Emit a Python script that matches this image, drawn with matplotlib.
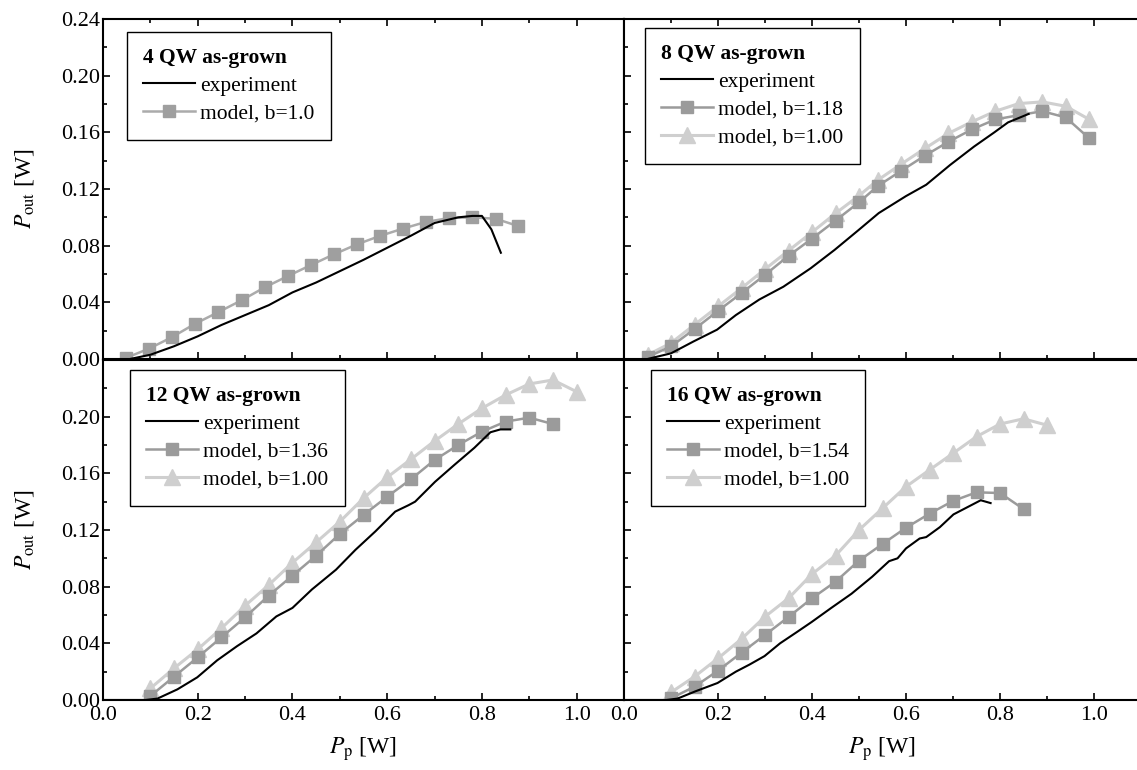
import numpy as np
import matplotlib
matplotlib.use("Agg")
import matplotlib.pyplot as plt
from matplotlib.ticker import MultipleLocator, FormatStrFormatter

plt.rcParams['font.family'] = ['Liberation Serif', 'DejaVu Serif']
plt.rcParams['mathtext.fontset'] = 'stix'

# ---- 4 QW ----
qw4_exp_x = [0.057, 0.10, 0.15, 0.20, 0.25, 0.30, 0.35, 0.40, 0.45, 0.50, 0.55,
             0.60, 0.65, 0.70, 0.75, 0.78, 0.80, 0.82, 0.84]
qw4_exp_y = [0.000, 0.003, 0.009, 0.016, 0.024, 0.031, 0.038, 0.047, 0.054, 0.062,
             0.070, 0.0785, 0.087, 0.096, 0.100, 0.101, 0.101, 0.0915, 0.075]
qw4_m1_x = [0.048, 0.097, 0.145, 0.194, 0.243, 0.293, 0.341, 0.390, 0.439, 0.487,
            0.536, 0.584, 0.633, 0.681, 0.731, 0.779, 0.829, 0.877]
qw4_m1_y = [0.0007, 0.0073, 0.0153, 0.0248, 0.0330, 0.0415, 0.0505, 0.0585, 0.0663,
            0.0738, 0.0809, 0.0868, 0.0920, 0.0967, 0.0995, 0.1000, 0.0990, 0.0938]

# ---- 8 QW ----
qw8_exp_x = [0.05, 0.10, 0.148, 0.198, 0.238, 0.288, 0.339, 0.397, 0.448, 0.499,
             0.542, 0.60, 0.643, 0.694, 0.745, 0.788, 0.817, 0.861]
qw8_exp_y = [0.000, 0.004, 0.0124, 0.0207, 0.031, 0.042, 0.051, 0.064, 0.077, 0.091,
             0.103, 0.115, 0.123, 0.137, 0.150, 0.160, 0.167, 0.173]
qw8_mb_x = [0.05, 0.10, 0.15, 0.20, 0.25, 0.30, 0.35, 0.40, 0.45, 0.50,
            0.54, 0.59, 0.64, 0.69, 0.74, 0.79, 0.84, 0.89, 0.94, 0.99]
qw8_mb_y = [0.0014, 0.0089, 0.0211, 0.0340, 0.0465, 0.0594, 0.0728, 0.0850, 0.0977,
            0.1106, 0.1221, 0.1329, 0.1435, 0.1533, 0.1620, 0.1691, 0.1721, 0.1749,
            0.1705, 0.1557]
qw8_m1_y = [0.0028, 0.0113, 0.0242, 0.0371, 0.0500, 0.0634, 0.0765, 0.0895, 0.1028,
            0.1153, 0.1263, 0.1376, 0.1486, 0.1592, 0.1674, 0.1749, 0.1803, 0.1815,
            0.1784, 0.1691]

# ---- 12 QW ----
qw12_exp_x = [0.0, 0.09, 0.115, 0.157, 0.199, 0.241, 0.283, 0.324, 0.366, 0.40, 0.441,
              0.492, 0.533, 0.575, 0.617, 0.645, 0.659, 0.701, 0.742, 0.784, 0.818,
              0.839, 0.860]
qw12_exp_y = [0.0, 0.0, 0.001, 0.0075, 0.016, 0.028, 0.038, 0.047, 0.059, 0.065, 0.078,
              0.092, 0.106, 0.119, 0.133, 0.1375, 0.140, 0.154, 0.166, 0.178, 0.189,
              0.191, 0.191]
qw12_mb_x = [0.10, 0.15, 0.20, 0.25, 0.30, 0.35, 0.40, 0.45, 0.50, 0.55, 0.60, 0.65,
             0.70, 0.75, 0.80, 0.85, 0.90, 0.95]
qw12_mb_y = [0.0028, 0.0165, 0.0301, 0.0442, 0.0584, 0.0737, 0.0878, 0.1019, 0.1172,
             0.1306, 0.1435, 0.1558, 0.1694, 0.1800, 0.1894, 0.1965, 0.1993, 0.1948]
qw12_m1_x = [0.10, 0.15, 0.20, 0.25, 0.30, 0.35, 0.40, 0.45, 0.50, 0.55, 0.60, 0.65,
             0.70, 0.75, 0.80, 0.85, 0.90, 0.95, 1.00]
qw12_m1_y = [0.0082, 0.0224, 0.0358, 0.0506, 0.0666, 0.0812, 0.0969, 0.1113, 0.1259,
             0.1424, 0.1572, 0.1699, 0.1828, 0.1948, 0.2059, 0.2153, 0.2231, 0.2259,
             0.2176]

# ---- 16 QW ----
qw16_exp_x = [0.0, 0.09, 0.114, 0.151, 0.199, 0.238, 0.267, 0.299, 0.332, 0.368, 0.399,
              0.441, 0.484, 0.528, 0.564, 0.582, 0.60, 0.629, 0.643, 0.672, 0.701,
              0.730, 0.759, 0.780]
qw16_exp_y = [0.0, 0.0, 0.001, 0.006, 0.012, 0.020, 0.025, 0.031, 0.040, 0.048, 0.055,
              0.065, 0.075, 0.087, 0.098, 0.100, 0.107, 0.114, 0.115, 0.122, 0.131,
              0.136, 0.141, 0.139]
qw16_mb_x = [0.10, 0.15, 0.20, 0.25, 0.30, 0.35, 0.40, 0.45, 0.50, 0.55, 0.60, 0.65,
             0.70, 0.75, 0.80, 0.85]
qw16_mb_y = [0.0012, 0.0094, 0.0207, 0.0334, 0.0459, 0.0586, 0.0718, 0.0835, 0.0984,
             0.1101, 0.1216, 0.1315, 0.1405, 0.1466, 0.1461, 0.1348]
qw16_m1_x = [0.10, 0.15, 0.20, 0.25, 0.30, 0.35, 0.40, 0.45, 0.50, 0.55, 0.60, 0.65,
             0.70, 0.75, 0.80, 0.85, 0.90]
qw16_m1_y = [0.0054, 0.0165, 0.0294, 0.0431, 0.0588, 0.0718, 0.0889, 0.1019, 0.1200,
             0.1353, 0.1506, 0.1624, 0.1741, 0.1859, 0.1948, 0.1985, 0.1940]

titles = ["4 QW as-grown", "8 QW as-grown", "12 QW as-grown", "16 QW as-grown"]

W, H = 1137, 770
fig = plt.figure(figsize=(W / 100, H / 100), dpi=100)


def add_ax(x0, y0, w, h):
    return fig.add_axes([x0 / W, 1 - (y0 + h) / H, w / W, h / H])


ax_tl = add_ax(103, 19, 521, 340)
ax_tr = add_ax(624, 19, 517, 340)
ax_bl = add_ax(103, 360, 521, 340)
ax_br = add_ax(624, 360, 517, 340)

sq_col = '#9b9b9b'
tri_col = '#cfcfcf'


def draw(ax, exp, mb, m1, mb_label, m1_label):
    handles = []
    if m1 is not None:
        h1, = ax.plot(m1[0], m1[1], '-^', color=tri_col, lw=2.2, ms=11, label=m1_label)
    if mb is not None:
        hb, = ax.plot(mb[0], mb[1], '-s', color=sq_col, lw=1.8, ms=8.5, label=mb_label)
    he, = ax.plot(exp[0], exp[1], '-', color='black', lw=1.5, label='experiment')
    handles.append(he)
    if mb is not None:
        handles.append(hb)
    if m1 is not None:
        handles.append(h1)
    return handles


hs_tl = draw(ax_tl, (qw4_exp_x, qw4_exp_y), (qw4_m1_x, qw4_m1_y), None,
             'model, b=1.0', None)
ax_tl.lines[0].set_color('#ababab')
ax_tl.lines[0].set_markerfacecolor('#9f9f9f')
ax_tl.lines[0].set_markeredgecolor('#9f9f9f')
hs_tr = draw(ax_tr, (qw8_exp_x, qw8_exp_y), (qw8_mb_x, qw8_mb_y), (qw8_mb_x, qw8_m1_y),
             'model, b=1.18', 'model, b=1.00')
hs_bl = draw(ax_bl, (qw12_exp_x, qw12_exp_y), (qw12_mb_x, qw12_mb_y), (qw12_m1_x, qw12_m1_y),
             'model, b=1.36', 'model, b=1.00')
hs_br = draw(ax_br, (qw16_exp_x, qw16_exp_y), (qw16_mb_x, qw16_mb_y), (qw16_m1_x, qw16_m1_y),
             'model, b=1.54', 'model, b=1.00')

legend_pos = [(0.046, 0.962), (0.041, 0.974), (0.052, 0.971), (0.052, 0.971)]

for i, (ax, hs) in enumerate(zip([ax_tl, ax_tr, ax_bl, ax_br], [hs_tl, hs_tr, hs_bl, hs_br])):
    top = i < 2
    left = i % 2 == 0
    ax.set_xlim(0, 1.1)
    ax.set_ylim(0, 0.24)
    ax.xaxis.set_major_locator(MultipleLocator(0.2))
    ax.xaxis.set_minor_locator(MultipleLocator(0.1))
    ax.yaxis.set_major_locator(MultipleLocator(0.04))
    ax.yaxis.set_minor_locator(MultipleLocator(0.02))
    ax.xaxis.set_major_formatter(FormatStrFormatter('%.1f'))
    ax.yaxis.set_major_formatter(FormatStrFormatter('%.2f'))
    ax.tick_params(which='both', direction='in', top=top, right=False,
                   labelbottom=not top, labelleft=left, labelsize=16, width=1.2)
    ax.tick_params(which='major', length=5)
    ax.tick_params(axis='y', which='major', pad=2)
    ax.tick_params(axis='x', which='major', pad=4)
    ax.tick_params(which='minor', length=3)
    for s in ax.spines.values():
        s.set_linewidth(1.5)
    if not top and left:
        ax.set_yticks(np.arange(0, 0.21, 0.04))
    if left:
        ax.set_ylabel(r'$P_{\mathrm{out}}$ [W]', fontsize=17)
        ax.yaxis.set_label_coords(-0.128, 0.5)
    if not top:
        ax.set_xlabel(r'$P_{\mathrm{p}}$ [W]', fontsize=17)
        ax.xaxis.set_label_coords(0.5, -0.105)
    leg = ax.legend(handles=hs, loc='upper left', bbox_to_anchor=legend_pos[i],
                    title=titles[i], title_fontproperties={'weight': 'bold', 'size': 15.5},
                    alignment='left', fontsize=15.5, frameon=True, fancybox=False,
                    edgecolor='black', framealpha=1, borderpad=0.75, handlelength=2.4,
                    handletextpad=0.25, labelspacing=0.36, borderaxespad=0)
    leg.get_frame().set_linewidth(1.0)

ax_bl.set_ylim(0, 0.24)

fig.savefig('out.png', dpi=100)
